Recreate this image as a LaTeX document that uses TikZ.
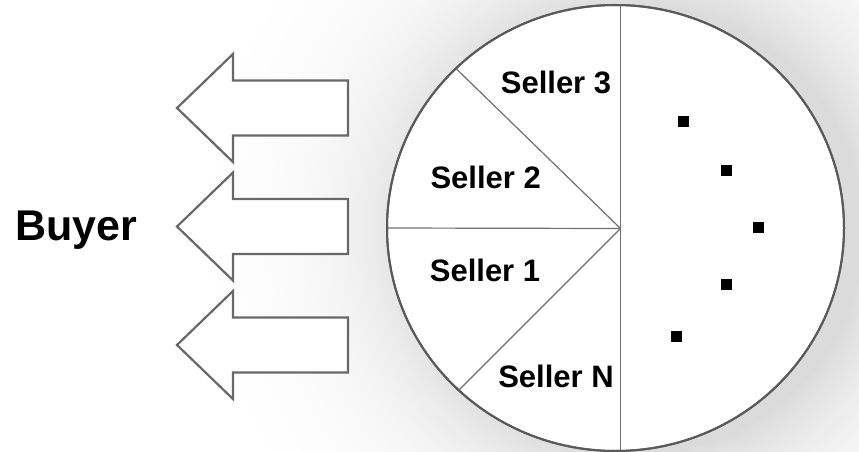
\documentclass[tikz,border=0pt]{standalone}
\usepackage{fontspec}
\setmainfont{Liberation Sans}
\usetikzlibrary{shapes.geometric}

\definecolor{rimgray}{HTML}{5A5A5A}
\definecolor{spokegray}{HTML}{707070}
\definecolor{arrowgray}{HTML}{686868}

\tikzset{
  sellerlabel/.style={inner sep=0pt, anchor=base,
    font=\fontsize{31}{36}\selectfont\bfseries},
  buyerlabel/.style={inner sep=0pt, anchor=base,
    font=\fontsize{43}{50}\selectfont\bfseries},
  marketdisc/.style={ellipse, draw=rimgray, line width=2pt, fill=white,
    minimum width=457pt, minimum height=446pt, inner sep=0pt},
  spoke/.style={draw=spokegray, line width=1.2pt},
  dotmark/.style={fill=black, minimum size=11pt, inner sep=0pt},
  flowarrow/.style={draw=arrowgray, line width=2.2pt, fill=white, line join=miter},
  pics/leftarrow/.style={code={
    \path[flowarrow] (0,0) -- (56,-54) -- (56,-27.5) -- (171,-27.5)
      -- (171,27.5) -- (56,27.5) -- (56,54) -- cycle;}}
}

\begin{document}
\begin{tikzpicture}[x=1pt,y=-1pt]
\useasboundingbox (0,0) rectangle (859,452);

% soft grey glow around the disc: concentric rings, darker towards the rim
\begin{scope}
  \clip (0,0) rectangle (859,452);
  \foreach \r in {440,437,...,224} {
    \pgfmathsetmacro{\shadeamt}{max(0,15*exp(-(\r-224)/80)-15*exp(-216/80))}
    \fill[black!\shadeamt] (640,230) circle (\r);
  }
\end{scope}

% buyer side
\node[buyerlabel] (buyer) at (76.5,240) {Buyer};
\pic at (177,108) {leftarrow};
\pic at (177,226.5) {leftarrow};
\pic at (177,345) {leftarrow};

% market disc with its partitions
\node[marketdisc] (disc) at (615.5,228) {};
\coordinate (hub) at (620.5,228.5);
\coordinate (top) at (620.5,4.6);
\coordinate (bottom) at (620.5,451.4);
\draw[spoke] (top) -- (bottom);
\draw[spoke] (hub) -- (disc.west);
\draw[spoke] (hub) -- (disc.135);
\draw[spoke] (hub) -- (disc.226);
\draw[draw=rimgray, line width=2pt] (disc.center) ellipse (228.5 and 223);

% seller labels
\node[sellerlabel] (s3) at (556,93.3) {Seller 3};
\node[sellerlabel] (s2) at (485.7,188.3) {Seller 2};
\node[sellerlabel] (s1) at (485,281.7) {Seller 1};
\node[sellerlabel] (sn) at (556,387.7) {Seller N};

% remaining sellers
\node[dotmark] (d1) at (683.3,121.3) {};
\node[dotmark] (d2) at (726.7,170.7) {};
\node[dotmark] (d3) at (758.3,227.3) {};
\node[dotmark] (d4) at (726.7,284) {};
\node[dotmark] (d5) at (676.7,336) {};
\end{tikzpicture}
\end{document}
